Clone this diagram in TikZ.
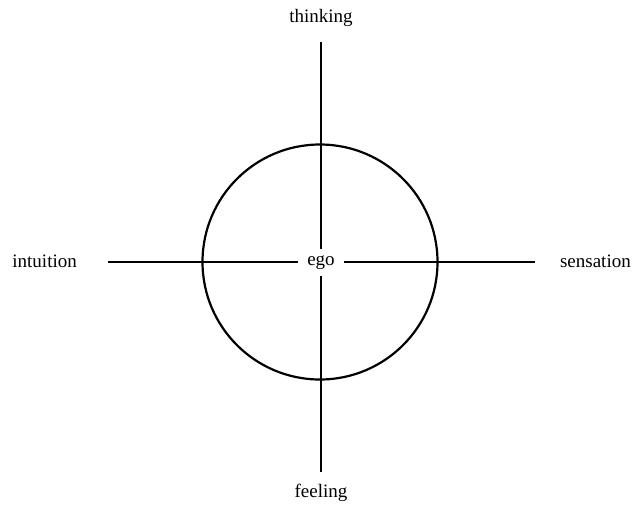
\documentclass[tikz,border=0pt]{standalone}
\usepackage{fontspec}
\setmainfont{Liberation Serif}
\usetikzlibrary{positioning}
\tikzset{
    fnlabel/.style={font=\fontsize{19}{22}\selectfont,inner sep=0pt},
    egobox/.style={font=\fontsize{19}{22}\selectfont,inner sep=0pt,minimum width=46pt,minimum height=26pt},
    axisline/.style={line width=2pt},
    egoring/.style={line width=2.2pt}
}

\begin{document}
\begin{tikzpicture}[x=1pt,y=-1pt]
            \useasboundingbox (0,0) rectangle (632,504);
            \node[egobox] (ego) at (321,262.5) {ego};
            \coordinate (up) at (321,42);
            \coordinate (down) at (321,472);
            \coordinate (left) at (108,262);
            \coordinate (right) at (535,262);
            \node[fnlabel,above=15pt of up] (thinking) {thinking};
            \node[fnlabel,below=12pt of down] (feeling) {feeling};
            \node[fnlabel,anchor=east] (intuition) at (77,261) {intuition};
            \node[fnlabel,anchor=east] (sensation) at (631,261) {sensation};
            \draw[egoring] (320,262) circle (117.5);
            \draw[axisline] (up) -- (ego);
            \draw[axisline] (ego) -- (down);
            \draw[axisline] (left) -- (ego.west |- left);
            \draw[axisline] (ego.east |- right) -- (right);
        \end{tikzpicture}
\end{document}
